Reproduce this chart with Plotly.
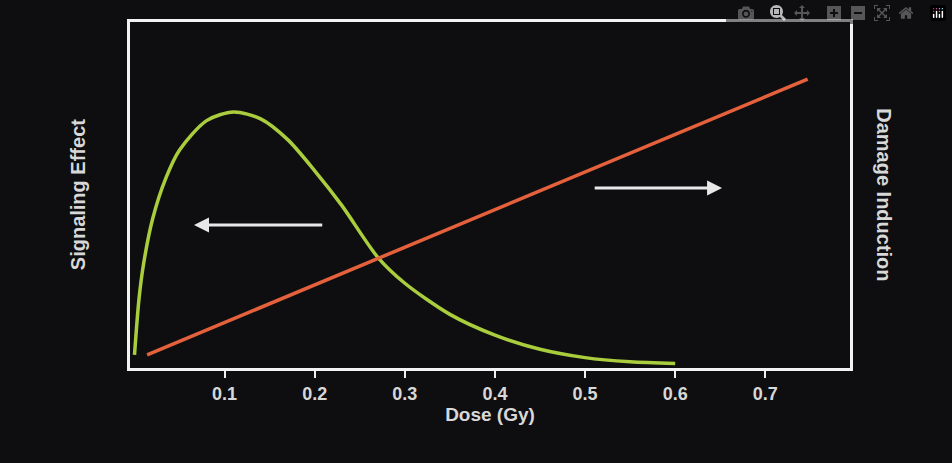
import plotly.graph_objects as go

# Signaling effect (green)
dose_sig = [0.0, 0.005, 0.01, 0.02, 0.035, 0.05, 0.08, 0.11, 0.14, 0.17, 0.2, 0.23, 0.27, 0.3, 0.35, 0.4, 0.45, 0.5, 0.55, 0.6]
signal = [3.8, 20, 30, 43, 55, 63, 71.5, 74, 72, 66, 57, 47, 32, 24.5, 15.5, 9.5, 5.4, 3.0, 1.8, 1.3]

# Damage induction (red), straight line
dose_dmg = [0.014, 0.747]
damage = [3.8, 83.5]

tick_vals = [0.1, 0.2, 0.3, 0.4, 0.5, 0.6, 0.7]

bg = "#0e0e11"
txt = "#d8d8d8"
fam = "Liberation Sans, Arial, sans-serif"

fig = go.Figure()
fig.add_trace(go.Scatter(x=dose_sig, y=signal, mode="lines",
                         line=dict(color="#a9cd3c", width=3.5, shape="spline", smoothing=0.8), showlegend=False))
fig.add_trace(go.Scatter(x=dose_dmg, y=damage, mode="lines", line=dict(color="#e4613c", width=3.5), showlegend=False))

fig.update_layout(
    width=952, height=463,
    paper_bgcolor=bg, plot_bgcolor=bg,
    margin=dict(l=130, r=102, t=22, b=95),
    font=dict(family=fam, size=18, color=txt),
    xaxis=dict(range=[-0.005, 0.794], tickvals=tick_vals, ticks="outside", ticklen=7, tickcolor="#eeeeee", tickwidth=2,
               tickfont=dict(size=18, color=txt, family=fam, weight="bold"),
               showgrid=False, zeroline=False, showline=True, linecolor="#f2f2f2", linewidth=3, mirror=True,
               title=dict(text="<b>Dose (Gy)</b>", font=dict(size=19, color=txt), standoff=6)),
    yaxis=dict(range=[0, 100], showticklabels=False, ticks="", showgrid=False, zeroline=False,
               showline=True, linecolor="#f2f2f2", linewidth=3, mirror=True),
    annotations=[
        dict(text="<b>Signaling Effect</b>", xref="paper", yref="paper", x=-0.09, y=0.5, textangle=-90,
             showarrow=False, font=dict(size=20, color=txt)),
        dict(text="<b>Damage Induction</b>", xref="paper", yref="paper", x=1.065, y=0.5, textangle=90,
             showarrow=False, font=dict(size=20, color=txt)),
        dict(x=0.066, y=41.3, ax=0.21, ay=41.3, xref="x", yref="y", axref="x", ayref="y", text="",
             showarrow=True, arrowhead=2, arrowsize=1, arrowwidth=3, arrowcolor="#e8e8e8"),
        dict(x=0.652, y=52, ax=0.509, ay=52, xref="x", yref="y", axref="x", ayref="y", text="",
             showarrow=True, arrowhead=2, arrowsize=1, arrowwidth=3, arrowcolor="#e8e8e8"),
    ],
)

fig.write_html("out.html",
               post_script="document.body.style.margin='0';document.body.style.background='%s';" % bg)
